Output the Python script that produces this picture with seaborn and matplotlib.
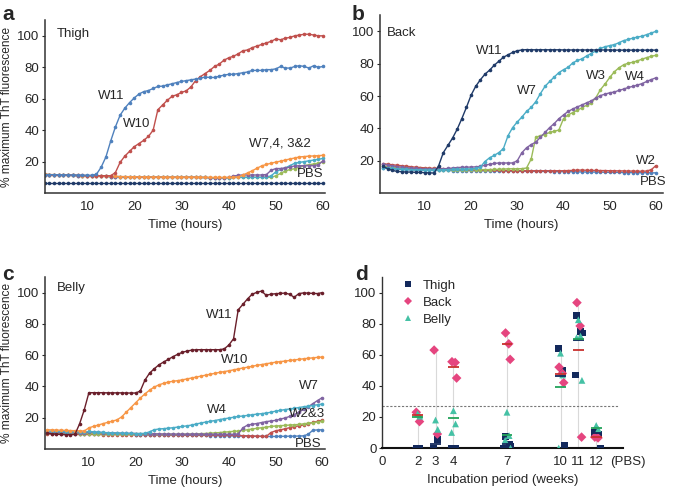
import numpy as np
import pandas as pd
import seaborn as sns
import matplotlib.pyplot as plt

sns.set_style("ticks")
plt.rcParams["font.family"] = ["Liberation Sans", "DejaVu Sans"]

hours = list(range(1, 61))

# ---- panel a: Thigh ----
thigh_w11 = [11.8, 11.7, 11.7, 11.6, 11.6, 11.5, 11.5, 11.4, 11.4, 11.3, 11.3,
             12.0, 16.5, 23.0, 33.0, 42.0, 49.5, 54.0, 57.5, 60.5, 63.0, 64.5, 65.2, 66.5, 67.8,
             68.0, 68.8, 69.5, 70.3, 71.0, 71.5, 72.0, 72.5, 73.0, 73.8, 73.5, 73.5, 74.3, 75.0,
             75.5, 75.5, 76.0, 76.5, 77.0, 78.0, 78.0, 78.0, 78.5, 78.5, 79.0, 80.5, 79.5, 79.5,
             80.5, 81.0, 80.5, 79.5, 81.0, 80.0, 80.5]
thigh_w10 = [11.6, 11.5, 11.5, 11.4, 11.4, 11.3, 11.3, 11.2, 11.2, 11.1, 11.1, 11.0, 11.0, 11.0, 11.0,
             13.0, 19.5, 23.5, 26.5, 29.5, 31.5, 33.5, 36.0, 40.0, 53.0, 56.0, 59.0, 61.5, 62.5,
             64.0, 65.0, 67.5, 71.5, 74.0, 76.0, 78.0, 80.5, 82.0, 84.5, 86.0, 87.0, 88.5, 90.5,
             91.0, 92.5, 93.5, 94.5, 95.5, 96.5, 98.0, 97.5, 98.5, 99.0, 100.0, 100.5, 101.0,
             101.0, 100.5, 100.0, 100.0]
thigh_w7 = [11.9, 11.8, 11.7, 11.6, 11.5, 11.4, 11.3, 11.2, 11.1, 11.1, 11.0, 10.9, 10.8, 10.7,
            10.6, 10.6, 10.5, 10.5, 10.4, 10.4, 10.3, 10.3, 10.3, 10.2, 10.2, 10.2, 10.1, 10.1,
            10.1, 10.1, 10.1, 10.1, 10.1, 10.0, 10.0, 9.9, 9.9, 9.9, 9.9, 9.9, 10.0, 10.2,
            11.5, 12.8, 14.2, 15.8, 17.3, 18.2, 19.0, 19.7, 20.3, 21.0, 21.7, 22.3, 23.0, 23.2,
            23.5, 23.6, 23.8, 24.0]
thigh_w4 = [11.8, 11.7, 11.6, 11.5, 11.4, 11.3, 11.2, 11.1, 11.0, 11.0, 10.9, 10.8, 10.7, 10.6,
            10.5, 10.5, 10.4, 10.4, 10.3, 10.3, 10.2, 10.2, 10.2, 10.1, 10.1, 10.1, 10.0, 10.0,
            10.0, 10.0, 10.0, 10.0, 10.0, 9.9, 9.9, 9.8, 9.8, 9.8, 9.8, 9.9,
            10.8, 11.3, 11.5, 11.5, 11.5, 11.5, 11.5, 11.8, 14.5, 15.6, 15.6, 16.0, 16.5, 17.3,
            17.3, 17.5, 17.5, 17.5, 18.0, 20.5]
thigh_w3 = [11.8, 11.7, 11.6, 11.5, 11.4, 11.3, 11.2, 11.1, 11.0, 11.0, 10.9, 10.8, 10.7, 10.6,
            10.5, 10.5, 10.4, 10.4, 10.3, 10.3, 10.2, 10.2, 10.2, 10.1, 10.1, 10.1, 10.0, 10.0,
            10.0, 10.0, 10.0, 10.0, 10.0, 9.9, 9.9, 9.8, 9.8, 9.8, 9.8, 9.8, 9.9, 10.0,
            10.0, 10.0, 10.0, 10.0, 10.0, 10.0, 11.0, 13.5, 15.0, 16.0, 17.5, 19.0, 19.5, 20.0,
            20.5, 21.0, 21.5, 22.0]
thigh_w2 = [11.8, 11.7, 11.6, 11.5, 11.4, 11.3, 11.2, 11.1, 11.0, 11.0, 10.9, 10.8, 10.7, 10.6,
            10.5, 10.5, 10.4, 10.4, 10.3, 10.3, 10.2, 10.2, 10.2, 10.1, 10.1, 10.1, 10.0, 10.0,
            10.0, 10.0, 10.0, 10.0, 10.0, 9.9, 9.9, 9.8, 9.8, 9.8, 9.8, 9.8, 9.9, 10.0,
            10.0, 10.0, 10.0, 10.0, 10.0, 10.0, 10.0, 11.0, 12.5, 14.0, 15.0, 15.5, 16.5, 17.5,
            18.0, 18.5, 19.0, 20.0]
thigh_pbs = [6.3, 6.3, 6.3, 6.3, 6.3, 6.3, 6.3, 6.3, 6.3, 6.3, 6.3, 6.3, 6.3, 6.3, 6.3,
             6.3, 6.3, 6.3, 6.3, 6.3, 6.3, 6.3, 6.3, 6.3, 6.3, 6.3, 6.3, 6.3, 6.3, 6.3,
             6.3, 6.3, 6.3, 6.3, 6.3, 6.3, 6.3, 6.3, 6.3, 6.3, 6.3, 6.3, 6.3, 6.3, 6.3,
             6.3, 6.3, 6.3, 6.3, 6.3, 6.3, 6.3, 6.3, 6.3, 6.3, 6.3, 6.3, 6.3, 6.3, 6.3]

# ---- panel b: Back ----
back_w11 = [16.5, 15.0, 14.0, 13.4, 13.2, 13.0, 13.0, 12.8, 12.8, 12.6, 12.5, 12.4,
            17.0, 25.0, 29.5, 34.0, 39.5, 46.0, 53.0, 60.5, 66.0, 70.0, 73.5, 76.0, 79.0,
            81.5, 84.0, 85.5, 87.0, 88.0, 88.5, 88.7, 88.6, 88.6, 88.6, 88.6, 88.6, 88.6,
            88.6, 88.5, 88.5, 88.5, 88.5, 88.5, 88.5, 88.5, 88.5, 88.5, 88.5, 88.5, 88.4,
            88.4, 88.4, 88.4, 88.4, 88.4, 88.4, 88.4, 88.4, 88.4]
back_w7 = [15.8, 15.5, 15.2, 15.0, 14.8, 14.6, 14.5, 14.4, 14.3, 14.2, 14.2, 14.2, 14.3, 14.4,
           14.5, 14.6, 14.7, 14.8, 14.9, 15.0, 15.2, 16.0, 19.5, 21.8, 23.3, 25.0, 27.5, 35.5,
           40.5, 44.0, 47.0, 50.5, 53.0, 56.5, 61.5, 66.0, 69.0, 71.8, 74.5, 76.3, 77.8, 80.5,
           82.0, 83.0, 84.8, 86.3, 88.0, 89.5, 90.5, 91.2, 91.8, 93.0, 94.3, 95.0, 95.8, 96.5,
           97.0, 98.0, 99.0, 100.0]
back_w4 = [17.8, 17.2, 16.8, 16.4, 16.0, 15.7, 15.5, 15.3, 15.1, 15.0, 15.0, 14.9, 14.9, 15.0,
           15.2, 15.5, 15.8, 15.9, 16.0, 16.1, 16.2, 16.5, 17.2, 17.8, 18.3, 18.6, 18.6, 18.6,
           18.6, 20.0, 25.0, 28.0, 30.0, 31.5, 34.5, 37.5, 40.5, 43.0, 46.0, 48.3, 50.5, 52.0,
           53.3, 54.5, 55.8, 57.0, 58.8, 60.3, 61.2, 62.0, 62.5, 63.5, 64.3, 65.3, 66.0, 66.8,
           67.7, 69.0, 70.2, 71.3]
back_w3 = [16.5, 16.2, 15.9, 15.6, 15.4, 15.2, 15.0, 14.9, 14.8, 14.7, 14.6, 14.6, 14.5, 14.5,
           14.5, 14.5, 14.5, 14.5, 14.5, 14.5, 14.5, 14.5, 14.5, 14.5, 14.6, 14.7, 14.8, 15.0,
           15.0, 15.0, 15.1, 15.5, 21.0, 34.5, 35.5, 36.2, 37.5, 38.2, 39.0, 46.0, 48.3, 49.8,
           51.2, 52.8, 54.3, 55.8, 59.0, 64.0, 67.5, 71.5, 75.0, 77.5, 79.3, 80.3, 80.9, 81.8,
           82.8, 83.8, 84.6, 85.2]
back_w2 = [18.2, 17.8, 17.5, 17.2, 16.9, 16.6, 16.3, 16.0, 15.8, 15.6, 15.4, 15.3, 15.2, 15.0,
           14.9, 14.8, 14.7, 14.6, 14.5, 14.4, 14.3, 14.2, 14.1, 14.0, 14.0, 14.0, 13.9, 13.9,
           13.8, 13.8, 13.8, 13.8, 13.8, 13.8, 13.8, 13.8, 13.8, 13.8, 13.8, 13.8, 13.9, 14.0,
           14.2, 14.2, 14.1, 14.0, 14.0, 13.9, 13.9, 13.8, 13.8, 13.7, 13.7, 13.6, 13.6, 13.5,
           13.5, 13.6, 14.5, 17.0]
back_pbs = [15.5, 15.2, 15.0, 14.8, 14.6, 14.5, 14.4, 14.3, 14.2, 14.1, 14.0, 14.0, 14.0, 14.0,
            14.0, 13.9, 13.9, 13.9, 13.9, 13.9, 13.8, 13.8, 13.8, 13.8, 13.7, 13.7, 13.7, 13.6,
            13.6, 13.6, 13.5, 13.5, 13.5, 13.5, 13.4, 13.4, 13.4, 13.3, 13.3, 13.3, 13.2, 13.2,
            13.1, 13.1, 13.0, 13.0, 13.0, 12.9, 12.9, 12.8, 12.8, 12.8, 12.7, 12.7, 12.7, 12.6,
            12.6, 12.6, 12.5, 12.5]

# ---- panel c: Belly ----
belly_w11 = [10.0, 9.7, 9.5, 9.3, 9.2, 9.2, 9.3, 16.0, 25.0, 36.0, 36.0, 36.0, 36.0, 35.9,
             35.9, 35.9, 35.9, 35.8, 35.8, 35.8, 37.0, 44.0, 48.5, 51.3, 53.8, 55.6, 57.3, 59.0,
             60.5, 61.8, 62.6, 63.2, 63.5, 63.5, 63.5, 63.5, 63.5, 63.5, 64.0, 66.5, 70.5, 89.0,
             92.5, 96.0, 99.0, 100.2, 101.0, 98.3, 99.0, 99.3, 99.5, 99.7, 99.0, 97.0, 99.4, 99.8,
             99.7, 99.5, 99.4, 100.0]
belly_w10 = [12.3, 12.2, 12.1, 12.0, 11.9, 11.8, 11.7, 11.6, 11.5, 13.5, 14.5, 15.3, 16.2, 17.0,
             17.8, 18.6, 20.5, 23.5, 26.5, 29.5, 32.5, 35.2, 37.6, 39.6, 41.0, 42.0, 42.8, 43.3,
             43.7, 44.2, 44.8, 45.4, 46.0, 46.6, 47.2, 47.8, 48.4, 49.0, 49.5, 50.0, 50.6, 51.2,
             51.8, 52.3, 52.9, 53.5, 54.0, 54.5, 55.0, 55.5, 55.9, 56.2, 56.6, 57.0, 57.3, 57.7,
             58.0, 58.3, 58.6, 58.8]
belly_w4 = [11.5, 11.4, 11.3, 11.2, 11.1, 11.0, 11.0, 10.9, 10.8, 11.2, 11.0, 10.8, 10.6, 10.4,
            10.3, 10.2, 10.1, 10.0, 10.0, 9.9, 9.9, 10.0, 11.0, 12.3, 12.8, 13.0, 13.3, 13.6,
            14.0, 14.4, 14.8, 15.3, 16.0, 16.6, 17.2, 17.7, 18.2, 18.8, 19.3, 19.8, 20.3, 20.8,
            21.1, 21.5, 21.9, 22.3, 22.6, 23.0, 23.5, 24.2, 24.7, 25.2, 25.6, 26.0, 26.5, 27.0,
            27.4, 27.8, 28.3, 28.8]
belly_w7 = [10.8, 10.7, 10.6, 10.5, 10.5, 10.4, 10.4, 10.3, 10.3, 10.8, 10.7, 10.6, 10.5, 10.4,
            10.3, 10.2, 10.1, 10.0, 10.0, 9.9, 9.8, 9.8, 9.7, 9.7, 9.7, 9.6, 9.6, 9.6, 9.5,
            9.5, 9.5, 9.5, 9.5, 9.5, 9.4, 9.4, 9.4, 9.4, 9.4, 9.4, 9.4, 9.6, 13.5, 15.3, 15.8,
            16.3, 16.9, 17.5, 17.9, 18.3, 19.1, 19.8, 20.8, 22.0, 23.5, 25.3, 27.0, 29.0, 31.0,
            32.8]
belly_w3 = [10.5, 10.4, 10.3, 10.2, 10.1, 10.0, 10.0, 9.9, 9.9, 9.8, 9.8, 9.7, 9.7, 9.6, 9.6,
            9.5, 9.5, 9.5, 9.4, 9.4, 9.4, 9.3, 9.3, 9.3, 9.3, 9.3, 9.3, 9.3, 9.3, 9.4, 9.5,
            9.6, 9.7, 9.8, 9.9, 10.1, 10.3, 10.5, 10.8, 11.0, 11.3, 11.5, 11.9, 12.3, 12.8,
            13.2, 13.6, 14.0, 14.4, 14.7, 14.9, 15.1, 15.3, 15.5, 15.7, 16.1, 16.5, 16.9, 17.3,
            17.8]
belly_w2 = [9.8, 9.7, 9.6, 9.5, 9.5, 9.4, 9.4, 9.3, 9.3, 9.3, 9.3, 9.3, 9.2, 9.2, 9.2, 9.2,
            9.2, 9.2, 9.2, 9.2, 9.2, 9.2, 9.1, 9.1, 9.1, 9.1, 9.1, 9.0, 9.0, 9.0, 9.0, 9.0,
            9.0, 9.0, 9.0, 8.9, 8.9, 8.9, 8.9, 8.9, 8.8, 8.7, 8.5, 8.4, 8.3, 8.2, 8.1, 8.0,
            10.5, 11.6, 12.2, 12.9, 13.6, 14.3, 14.8, 15.4, 16.2, 17.0, 17.7, 18.4]
belly_pbs = [10.2, 10.1, 10.0, 9.9, 9.8, 9.8, 9.7, 9.7, 9.6, 9.6, 9.5, 9.5, 9.5, 9.4, 9.4,
             9.4, 9.3, 9.3, 9.3, 9.2, 9.2, 9.1, 9.1, 9.0, 9.0, 9.0, 8.9, 8.9, 8.9, 8.8, 8.8,
             8.8, 8.7, 8.7, 8.7, 8.6, 8.6, 8.5, 8.5, 8.4, 8.4, 8.3, 8.3, 8.2, 8.2, 8.1, 8.1,
             8.0, 8.0, 8.0, 8.1, 8.1, 8.2, 8.2, 8.3, 8.4, 9.4, 12.0, 12.2, 12.3]

# ---- panel d: end-point values by incubation week ----
thigh_weeks = [2, 2, 3, 3, 4, 4, 7, 7, 7, 7, 10, 10, 10, 11, 11, 11, 11, 12, 12, 12]
thigh_vals = [0, 0, 0, 5.5, 0, 0, 7.5, 2, 1, 0, 64, 50, 1.5, 85, 75, 74, 47, 10, 9, 0]
back_weeks = [2, 2, 3, 3, 4, 4, 4, 7, 7, 7, 10, 10, 10, 11, 11, 11, 12, 12]
back_vals = [23, 17, 63, 9, 55.5, 55, 45, 74, 67, 57, 52, 48, 42, 93.5, 78.5, 7, 7, 6.5]
belly_weeks = [2, 2, 3, 3, 4, 4, 4, 7, 7, 7, 7, 10, 10, 10, 11, 11, 11, 11, 12, 12]
belly_vals = [22, 20.5, 18, 12, 24, 15.5, 10, 23, 8, 5, 0, 61, 47, 0, 82.5, 72, 71, 43.5, 14.5, 12]
mean_weeks = [2, 3, 4, 7, 10, 11, 12]
thigh_mean = [0, 2.8, 0, 2.6, 46, 69.5, 9.5]
back_mean = [21, np.nan, 52, 67, 47.5, 63, 7]
belly_mean = [20, np.nan, 19, 8.5, 39, 70, 13]
week_ticks = [0, 2, 3, 4, 7, 10, 11, 12]
threshold = 27

c_blue = "#4f81bd"
c_red = "#c0504d"
c_orange = "#f79646"
c_purple = "#8064a2"
c_cyan = "#4bacc6"
c_green = "#9bbb59"
c_navy = "#1f3a68"
c_maroon = "#6a1f2b"

FS = 9.5


def long_df(series):
    rows = []
    for name, vals in series.items():
        for h, v in zip(hours, vals):
            rows.append((h, v, name))
    return pd.DataFrame(rows, columns=["hour", "value", "series"])


def line_panel(ax, series, colors, xlim):
    df = long_df(series)
    sns.lineplot(data=df, x="hour", y="value", hue="series", palette=colors,
                 marker="o", markersize=2.6, markeredgewidth=0, linewidth=1.0,
                 legend=False, ax=ax)
    ax.set_xlim(*xlim)
    ax.set_ylim(0, 110)
    ax.set_xticks([10, 20, 30, 40, 50, 60])
    ax.set_yticks([20, 40, 60, 80, 100])
    ax.set_xlabel("Time (hours)", fontsize=FS, labelpad=4)
    ax.set_ylabel("")
    ax.tick_params(axis="x", length=0, pad=6, labelsize=FS)
    ax.tick_params(axis="y", length=2.5, pad=1.5, labelsize=FS)
    sns.despine(ax=ax)
    for s in ["left", "bottom"]:
        ax.spines[s].set_color("#333333")
        ax.spines[s].set_linewidth(1.1)


fig = plt.figure(figsize=(6.73, 4.9), dpi=100)
ax_a = fig.add_axes([0.0669, 0.606, 0.4160, 0.353])
ax_b = fig.add_axes([0.5646, 0.606, 0.4204, 0.363])
ax_c = fig.add_axes([0.0669, 0.0837, 0.4160, 0.351])
ax_d = fig.add_axes([0.5676, 0.0857, 0.3581, 0.349])

# a
line_panel(ax_a,
           {"PBS": thigh_pbs, "W2": thigh_w2, "W3": thigh_w3, "W4": thigh_w4,
            "W7": thigh_w7, "W10": thigh_w10, "W11": thigh_w11},
           {"PBS": c_navy, "W2": c_green, "W3": c_cyan, "W4": c_purple,
            "W7": c_orange, "W10": c_red, "W11": c_blue},
           (1.1, 60.4))
ax_a.set_ylabel("% maximum ThT fluorescence", fontsize=8.6, labelpad=3)
ax_a.text(3.6, 101, "Thigh", fontsize=FS, va="center")
ax_a.text(15.2, 62, "W11", fontsize=FS, ha="center", va="center")
ax_a.text(20.6, 44, "W10", fontsize=FS, ha="center", va="center")
ax_a.text(50.9, 31.6, "W7,4, 3&2", fontsize=FS, ha="center", va="center")
ax_a.text(57.3, 12, "PBS", fontsize=FS, ha="center", va="center")

# b
line_panel(ax_b,
           {"PBS": back_pbs, "W2": back_w2, "W3": back_w3, "W4": back_w4,
            "W7": back_w7, "W11": back_w11},
           {"PBS": c_blue, "W2": c_red, "W3": c_green, "W4": c_purple,
            "W7": c_cyan, "W11": c_navy},
           (0.3, 61.5))
ax_b.text(1.9, 99, "Back", fontsize=FS, va="center")
ax_b.text(23.9, 87.7, "W11", fontsize=FS, ha="center", va="center")
ax_b.text(32.1, 63, "W7", fontsize=FS, ha="center", va="center")
ax_b.text(47.1, 72.7, "W3", fontsize=FS, ha="center", va="center")
ax_b.text(55.4, 71.9, "W4", fontsize=FS, ha="center", va="center")
ax_b.text(57.9, 20, "W2", fontsize=FS, ha="center", va="center")
ax_b.text(59.3, 6.7, "PBS", fontsize=FS, ha="center", va="center")

# c
line_panel(ax_c,
           {"PBS": belly_pbs, "W2": belly_w2, "W3": belly_w3, "W7": belly_w7,
            "W4": belly_w4, "W10": belly_w10, "W11": belly_w11},
           {"PBS": c_blue, "W2": c_red, "W3": c_green, "W7": c_purple,
            "W4": c_cyan, "W10": c_orange, "W11": c_maroon},
           (0.6, 60.6))
ax_c.set_ylabel("% maximum ThT fluorescence", fontsize=8.6, labelpad=3)
ax_c.text(3.2, 103, "Belly", fontsize=FS, va="center")
ax_c.text(37.9, 85.6, "W11", fontsize=FS, ha="center", va="center")
ax_c.text(41.3, 57, "W10", fontsize=FS, ha="center", va="center")
ax_c.text(57.2, 40, "W7", fontsize=FS, ha="center", va="center")
ax_c.text(37.4, 24.9, "W4", fontsize=FS, ha="center", va="center")
ax_c.text(56.8, 22.1, "W2&3", fontsize=FS, ha="center", va="center")
ax_c.text(57.0, 3.1, "PBS", fontsize=FS, ha="center", va="center")

# d
pts = pd.concat([
    pd.DataFrame({"week": thigh_weeks, "value": thigh_vals, "tissue": "Thigh"}),
    pd.DataFrame({"week": back_weeks, "value": back_vals, "tissue": "Back"}),
    pd.DataFrame({"week": belly_weeks, "value": belly_vals, "tissue": "Belly"}),
], ignore_index=True)
# small deterministic spread of replicates around each week
shift = {"Thigh": [-0.1, 0.12, 0.22, -0.18], "Back": [-0.08, 0.1, 0.18, -0.14],
         "Belly": [0.0, 0.12, -0.1, 0.2]}
pts["k"] = pts.groupby(["tissue", "week"]).cumcount()
pts["x"] = [w + shift[t][k % 4] for w, t, k in zip(pts["week"], pts["tissue"], pts["k"])]

for w in mean_weeks:
    top = pts.loc[pts["week"] == w, "value"].max()
    ax_d.plot([w, w], [0, top], color="#d9d9d9", lw=0.8, zorder=1)
ax_d.axhline(threshold, xmin=0, xmax=0.98, color="#777777", lw=0.8, ls=(0, (2, 1.5)), zorder=1)

pal_d = {"Thigh": "#13295c", "Back": "#e5457f", "Belly": "#45c1a5"}
sns.scatterplot(data=pts, x="x", y="value", hue="tissue", style="tissue",
                markers={"Thigh": "s", "Back": "D", "Belly": "^"},
                palette=pal_d, s=24, linewidth=0, ax=ax_d, zorder=3,
                hue_order=["Thigh", "Back", "Belly"])
for means, col in [(thigh_mean, "#13295c"), (back_mean, "#c8302e"), (belly_mean, "#23a35a")]:
    ax_d.hlines(means, [w - 0.3 for w in mean_weeks], [w + 0.3 for w in mean_weeks],
                colors=col, lw=1.3, zorder=4)

ax_d.set_xlim(0, 13.5)
ax_d.set_ylim(0, 110)
ax_d.set_xticks(week_ticks)
ax_d.set_yticks([0, 20, 40, 60, 80, 100])
ax_d.annotate("(PBS)", xy=(13.75, 0), xycoords=("data", "axes fraction"),
              xytext=(0, -5.5), textcoords="offset points", ha="center", va="top",
              fontsize=FS, annotation_clip=False)
ax_d.set_xlabel("Incubation period (weeks)", fontsize=FS, labelpad=4)
ax_d.set_ylabel("")
ax_d.tick_params(axis="x", length=0, pad=6, labelsize=FS)
ax_d.tick_params(axis="y", length=2.5, pad=1.5, labelsize=FS)
sns.despine(ax=ax_d)
ax_d.spines["left"].set_color("#333333")
ax_d.spines["left"].set_linewidth(1.0)
ax_d.spines["bottom"].set_color("#111111")
ax_d.spines["bottom"].set_linewidth(1.5)
leg = ax_d.legend(loc="upper left", bbox_to_anchor=(0.02, 1.03), frameon=False,
                  fontsize=FS, handletextpad=0.1, labelspacing=0.35, markerscale=0.8,
                  borderaxespad=0.2)

for lab, x, y in [("a", 0.003, 0.99), ("b", 0.522, 0.99), ("c", 0.003, 0.46), ("d", 0.528, 0.46)]:
    fig.text(x, y, lab, fontsize=15, fontweight="bold", va="top")

fig.savefig("out.png", dpi=100)
